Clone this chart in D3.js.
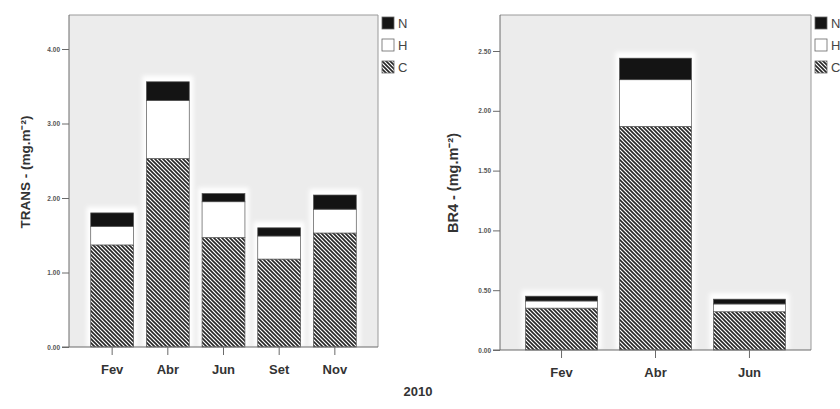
<!DOCTYPE html>
<html>
<head>
<meta charset="utf-8">
<script src="https://cdn.jsdelivr.net/npm/d3@7"></script>
<style>
  body { margin: 0; background: #ffffff; }
  svg { display: block; font-family: "Liberation Sans", Arial, sans-serif; }
</style>
</head>
<body>
<div id="chart"></div>
<script>
// left panel: TRANS
const transMonths = ["Fev", "Abr", "Jun", "Set", "Nov"];
const transC = [1.37, 2.53, 1.47, 1.18, 1.53];
const transH = [0.25, 0.78, 0.48, 0.31, 0.32];
const transN = [0.18, 0.25, 0.11, 0.11, 0.19];
const transTicks = [0, 1, 2, 3, 4];

// right panel: BR4
const br4Months = ["Fev", "Abr", "Jun"];
const br4C = [0.35, 1.87, 0.32];
const br4H = [0.06, 0.39, 0.065];
const br4N = [0.04, 0.18, 0.04];
const br4Ticks = [0, 0.5, 1, 1.5, 2, 2.5];

const legendKeys = ["N", "H", "C"];
const yearLabel = "2010";

const width = 840, height = 409;

let svg = d3.select("#chart")
    .append("svg")
    .attr("width", width)
    .attr("height", height);

let defs = svg.append("defs");
defs.append("pattern")
    .attr("id", "hatch")
    .attr("patternUnits", "userSpaceOnUse")
    .attr("width", 4)
    .attr("height", 4)
    .html('<rect width="4" height="4" fill="#ffffff"/>' +
          '<path d="M-1,-1 L5,5 M-1,3 L1,5 M3,-1 L5,1" stroke="#262626" stroke-width="1.6"/>');
defs.append("filter")
    .attr("id", "soft")
    .append("feGaussianBlur")
    .attr("stdDeviation", 2);

const fills = { N: "#141414", H: "#ffffff", C: "url(#hatch)" };

function drawPanel(cfg) {
    let g = svg.append("g");

    let x = d3.scaleBand()
        .domain(cfg.months)
        .range([cfg.left, cfg.right])
        .paddingInner(cfg.padIn)
        .paddingOuter(cfg.padOut);

    let y = d3.scaleLinear()
        .domain([0, cfg.ticks[cfg.ticks.length - 1]])
        .range([cfg.bottom, cfg.topTick]);

    // plot background + frame
    g.append("rect")
        .attr("x", cfg.left).attr("y", cfg.top)
        .attr("width", cfg.right - cfg.left)
        .attr("height", cfg.bottom - cfg.top)
        .attr("fill", "#ececec");
    g.append("path")
        .attr("d", `M${cfg.left},${cfg.top}H${cfg.right}V${cfg.bottom}`)
        .attr("fill", "none")
        .attr("stroke", "#9a9a9a");

    // stack the segments C, H, N
    let rows = cfg.months.map(function(m, i) {
        return { month: m, C: cfg.C[i], H: cfg.H[i], N: cfg.N[i] };
    });
    let stacked = d3.stack().keys(["C", "H", "N"])(rows);

    // light halo behind each bar
    g.selectAll(".halo")
        .data(rows)
        .enter()
        .append("rect")
        .attr("class", "halo")
        .attr("x", d => x(d.month) - 4)
        .attr("y", d => y(d.C + d.H + d.N) - 6)
        .attr("width", x.bandwidth() + 8)
        .attr("height", d => cfg.bottom - y(d.C + d.H + d.N) + 6)
        .attr("fill", "#ffffff")
        .attr("filter", "url(#soft)");

    stacked.forEach(function(layer) {
        g.selectAll(".seg-" + layer.key)
            .data(layer)
            .enter()
            .append("rect")
            .attr("x", d => x(d.data.month))
            .attr("y", d => y(d[1]))
            .attr("width", x.bandwidth())
            .attr("height", d => y(d[0]) - y(d[1]))
            .attr("fill", fills[layer.key])
            .attr("stroke", "#555")
            .attr("stroke-width", 0.7);
    });

    // y axis
    let yAxis = d3.axisLeft(y)
        .tickValues(cfg.ticks)
        .tickFormat(d3.format(".2f"))
        .tickSize(7)
        .tickPadding(2);
    let ya = g.append("g")
        .attr("transform", `translate(${cfg.left},0)`)
        .call(yAxis);
    ya.select(".domain").attr("stroke", "#6a6a6a").attr("d", `M0,${cfg.top}V${cfg.bottom}`);
    ya.selectAll(".tick line").attr("stroke", "#6a6a6a");
    ya.selectAll(".tick text")
        .attr("font-size", "6.5px")
        .attr("font-weight", "bold")
        .attr("fill", "#555");

    // x axis
    let xAxis = d3.axisBottom(x)
        .tickSize(8)
        .tickPadding(10);
    let xa = g.append("g")
        .attr("transform", `translate(0,${cfg.bottom})`)
        .call(xAxis);
    xa.select(".domain").attr("stroke", "#6a6a6a").attr("d", `M${cfg.left - 7},0H${cfg.right}`);
    xa.selectAll(".tick line").attr("stroke", "#6a6a6a");
    xa.selectAll(".tick text")
        .attr("font-size", "13px")
        .attr("font-weight", "bold")
        .attr("fill", "#333");

    // y title
    g.append("text")
        .attr("transform", `translate(${cfg.titleX},${cfg.titleY}) rotate(-90)`)
        .attr("text-anchor", "middle")
        .attr("font-size", cfg.titleSize)
        .attr("font-weight", "bold")
        .attr("fill", "#333")
        .text(cfg.title);

    // legend
    let lg = g.append("g")
        .attr("transform", `translate(${cfg.right + 4},17)`);
    legendKeys.forEach(function(k, i) {
        lg.append("rect")
            .attr("x", 0).attr("y", i * 22)
            .attr("width", 12).attr("height", 12)
            .attr("fill", fills[k])
            .attr("stroke", "#666")
            .attr("stroke-width", 0.8);
        lg.append("text")
            .attr("x", 16).attr("y", i * 22 + 11)
            .attr("font-size", "13px")
            .attr("fill", "#444")
            .text(k);
    });
}

drawPanel({
    months: transMonths, C: transC, H: transH, N: transN, ticks: transTicks,
    left: 69, right: 378, top: 15, bottom: 347, topTick: 49,
    padIn: 0.23, padOut: 0.39,
    title: "TRANS - (mg.m⁻²)", titleX: 30, titleY: 172, titleSize: "13.5px"
});

drawPanel({
    months: br4Months, C: br4C, H: br4H, N: br4N, ticks: br4Ticks,
    left: 500, right: 811, top: 15, bottom: 350, topTick: 51,
    padIn: 0.234, padOut: 0.272,
    title: "BR4 - (mg.m⁻²)", titleX: 458, titleY: 183, titleSize: "14.5px"
});

svg.append("text")
    .attr("x", 418)
    .attr("y", 396)
    .attr("text-anchor", "middle")
    .attr("font-size", "13px")
    .attr("font-weight", "bold")
    .attr("fill", "#333")
    .text(yearLabel);
</script>
</body>
</html>
